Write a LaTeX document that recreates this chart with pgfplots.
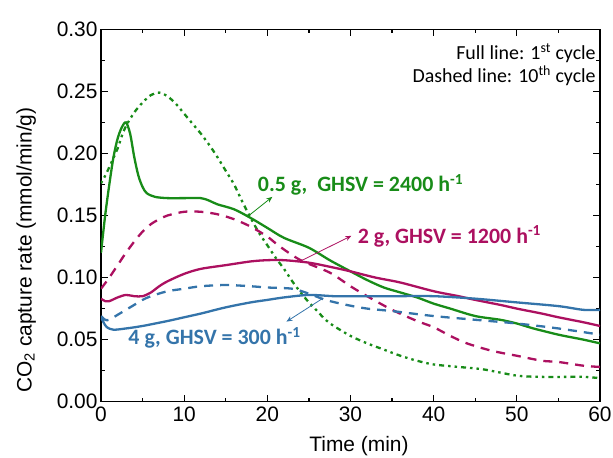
\documentclass[border=0pt]{standalone}
\usepackage{fontspec}
\setmainfont{Liberation Sans}
\newfontfamily\calib{Carlito}
\usepackage{pgfplots}
\pgfplotsset{compat=1.18}
\usetikzlibrary{arrows.meta}

\definecolor{cgreen}{RGB}{24,140,24}
\definecolor{cmag}{RGB}{172,16,96}
\definecolor{cblue}{RGB}{52,116,170}

\begin{document}
\begin{tikzpicture}
\begin{axis}[
  scale only axis, width=499bp, height=372.4bp,
  xmin=0, xmax=60, ymin=0, ymax=0.30,
  xtick={0,10,...,60}, minor xtick={5,15,...,55},
  ytick={0,0.05,...,0.30}, minor ytick={0.025,0.075,...,0.275},
  tick align=inside, major tick length=7bp, minor tick length=4bp,
  every tick/.style={black, line width=1.2bp},
  axis line style={line width=1.5bp},
  yticklabel style={/pgf/number format/.cd, fixed, fixed zerofill, precision=2},
  xticklabel style={yshift=-2bp},
  /pgf/number format/assume math mode=true,
  tick label style={font=\fontsize{21}{21}\selectfont},
  xlabel={Time (min)}, ylabel={CO\textsubscript{2} capture rate (mmol/min/g)},
  label style={font=\fontsize{21}{21}\selectfont},
  xlabel style={at={(axis description cs:0.517,-0.1343)}, anchor=base},
  ylabel style={at={(axis description cs:-0.150,0.407)}, anchor=center},
  every axis plot/.append style={line width=2.3bp, smooth},
]
\coordinate (bl) at (rel axis cs:0,0);
\coordinate (tr) at (rel axis cs:1,1);
% 0.5 g, 1st cycle
\addplot[cgreen] coordinates {(0,0.120) (0.5,0.150) (1,0.175) (1.5,0.197) (2,0.212) (2.5,0.221) (3,0.225) (3.5,0.216) (4,0.197) (4.5,0.182) (5,0.173) (5.5,0.168) (6.5,0.165) (8,0.164) (10,0.164) (12,0.164) (13,0.162) (14,0.159) (16,0.155) (18,0.148) (20,0.140) (22,0.132) (25,0.124) (27.5,0.114) (30,0.105) (32,0.098) (34,0.092) (36,0.088) (38,0.084) (40,0.079) (42,0.075) (45,0.069) (48,0.066) (50,0.063) (52,0.059) (55,0.054) (58,0.050) (60,0.047)};
% 0.5 g, 10th cycle
\addplot[cgreen, dash pattern=on 2.5bp off 4bp on 2.5bp off 4bp on 5bp off 4bp] coordinates {(0,0.176) (0.5,0.182) (1,0.189) (2,0.204) (2.5,0.214) (3,0.222) (4,0.233) (5,0.241) (6,0.247) (7,0.249) (8,0.246) (9,0.240) (10,0.232) (11,0.224) (12,0.216) (13,0.207) (14,0.197) (15,0.186) (16,0.175) (17,0.161) (18,0.148) (19,0.136) (20,0.126) (21,0.116) (22,0.107) (23,0.097) (24,0.088) (25,0.080) (26,0.073) (27,0.066) (28,0.061) (30,0.053) (32,0.047) (34,0.042) (36,0.037) (38,0.033) (40,0.030) (43,0.028) (46,0.026) (50,0.021) (53,0.020) (56,0.020) (58,0.020) (60,0.019)};
% 2 g, 1st cycle
\addplot[cmag] coordinates {(0,0.083) (0.5,0.081) (1,0.081) (2,0.084) (3,0.086) (4,0.085) (5,0.085) (6,0.088) (7,0.093) (8,0.097) (10,0.103) (12,0.107) (15,0.110) (18,0.113) (20,0.114) (22,0.114) (25,0.112) (28,0.108) (30,0.105) (33,0.100) (36,0.096) (40,0.089) (43,0.085) (45,0.082) (48,0.078) (50,0.075) (53,0.071) (55,0.068) (58,0.064) (60,0.061)};
% 2 g, 10th cycle
\addplot[cmag, dash pattern=on 9bp off 7bp] coordinates {(0,0.091) (1,0.100) (2,0.110) (3,0.120) (4,0.129) (5,0.137) (6,0.143) (7,0.147) (8,0.150) (10,0.153) (12,0.153) (14,0.151) (16,0.147) (18,0.141) (20,0.133) (21.5,0.125) (24,0.114) (27.5,0.104) (30,0.093) (32,0.085) (35,0.074) (38,0.065) (40,0.060) (42,0.053) (44,0.047) (47,0.041) (50,0.037) (53,0.033) (55,0.032) (58,0.029) (60,0.028)};
% 4 g, 1st cycle
\addplot[cblue] coordinates {(0,0.068) (0.3,0.064) (0.7,0.060) (1.5,0.058) (3,0.059) (5,0.061) (8,0.065) (10,0.068) (12,0.071) (15,0.076) (18,0.080) (20,0.082) (22,0.084) (25,0.086) (28,0.085) (30,0.085) (35,0.085) (40,0.085) (45,0.083) (50,0.080) (55,0.077) (58,0.074) (60,0.074)};
% 4 g, 10th cycle
\addplot[cblue, dash pattern=on 9bp off 7bp] coordinates {(0,0.069) (0.5,0.066) (1,0.066) (2,0.070) (3,0.074) (4,0.078) (5,0.082) (6,0.085) (8,0.089) (10,0.091) (12,0.093) (15,0.094) (18,0.093) (20,0.092) (23,0.091) (25,0.087) (27,0.082) (29.5,0.078) (32,0.075) (35,0.073) (40,0.069) (45,0.066) (50,0.063) (55,0.059) (60,0.054)};

% annotations
\draw[cgreen, line width=0.8bp, -{Stealth[length=6bp,width=5bp]}] (axis cs:17.6,0.149) -- (axis cs:20.6,0.165);
\draw[cmag, line width=0.8bp, -{Stealth[length=6bp,width=5bp]}] (axis cs:24.2,0.114) -- (axis cs:30.1,0.1336);
\draw[cblue, line width=0.8bp, -{Stealth[length=6bp,width=5bp]}] (axis cs:26.7,0.0834) -- (axis cs:22.3,0.0645);
\node[anchor=base west, text=cgreen, font=\calib\bfseries\fontsize{22}{22}\selectfont, inner sep=0pt] at (axis cs:18.85,0.169) {0.5 g,\ \ GHSV = 2400 h\textsuperscript{-1}};
\node[anchor=base west, text=cmag, font=\calib\bfseries\fontsize{22}{22}\selectfont, inner sep=0pt] at (axis cs:30.85,0.1277) {2 g, GHSV = 1200 h\textsuperscript{-1}};
\node[anchor=base west, text=cblue, font=\calib\bfseries\fontsize{22}{22}\selectfont, inner sep=0pt] at (axis cs:3.28,0.0457) {4 g, GHSV = 300 h\textsuperscript{-1}};
\node[anchor=base east, font=\calib\fontsize{20}{20}\selectfont, inner sep=0pt] at (axis cs:59.5,0.2755) {Full line: 1\textsuperscript{st} cycle};
\node[anchor=base east, font=\calib\fontsize{20}{20}\selectfont, inner sep=0pt] at (axis cs:59.5,0.2568) {Dashed line: 10\textsuperscript{th} cycle};
\end{axis}
\pgfresetboundingbox
\path ([shift={(-101bp,-56.3bp)}]bl) rectangle ([shift={(13bp,29.3bp)}]tr);
\end{tikzpicture}
\end{document}
